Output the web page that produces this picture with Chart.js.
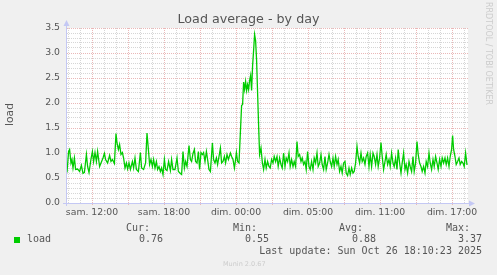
<!DOCTYPE html>
<html>
<head>
<meta charset="utf-8">
<script src="https://cdn.jsdelivr.net/npm/chart.js@4/dist/chart.umd.min.js"></script>
<style>
  html, body { margin: 0; padding: 0; background: #f0f0f0; }
  #wrap { position: relative; width: 497px; height: 275px; }
</style>
</head>
<body>
<div id="wrap"><canvas id="loadChart"></canvas></div>
<script>
// minutes since the left edge of the graph (5 min per pixel)
const minutes = [0, 8, 13, 20, 25, 30, 37, 43, 53, 63, 72, 80, 87, 97, 103, 110, 120, 127, 133, 140, 147, 153, 163, 170, 180, 187, 193, 203, 213, 220, 227, 237, 245, 250, 257, 263, 270, 277, 283, 290, 297, 303, 310, 317, 327, 333, 340, 347, 357, 367, 373, 383, 393, 400, 407, 413, 420, 427, 433, 440, 447, 453, 460, 467, 473, 480, 487, 493, 500, 508, 517, 523, 530, 540, 550, 557, 567, 573, 580, 587, 593, 600, 610, 617, 623, 630, 637, 643, 650, 657, 663, 670, 677, 683, 690, 697, 703, 710, 717, 727, 733, 740, 747, 753, 760, 767, 773, 780, 787, 793, 800, 807, 817, 823, 830, 837, 843, 847, 853, 860,
  873, 878, 883, 888, 893, 898, 903, 908, 913, 918, 923, 928, 933, 938, 943, 948, 953, 958, 963, 970,
  977, 983, 990, 996, 1003, 1010, 1016, 1023, 1030, 1036, 1043, 1050, 1056, 1063, 1070, 1076, 1083, 1090, 1096, 1103, 1110, 1116, 1123, 1130, 1136, 1143, 1150, 1156, 1163, 1170, 1176, 1183, 1190, 1196, 1203, 1210, 1216, 1223, 1230, 1236, 1243, 1250, 1256, 1263, 1270, 1276, 1283, 1290, 1296, 1303, 1310, 1316, 1323, 1330, 1336, 1343, 1350, 1356, 1363, 1370, 1376, 1383, 1390, 1396, 1403, 1410, 1416, 1423, 1430, 1436, 1443, 1450, 1456, 1463, 1470, 1476, 1483, 1490, 1496, 1503, 1510, 1516, 1523, 1530, 1536, 1543, 1550, 1556, 1563, 1570, 1576, 1583, 1590, 1596, 1603, 1610, 1616, 1623, 1630, 1636, 1643, 1650, 1656, 1663, 1670, 1676, 1683, 1690, 1696, 1703, 1710, 1716, 1723, 1730, 1736, 1743, 1750, 1756, 1763, 1770, 1776, 1783, 1790, 1796, 1803, 1810, 1816, 1823, 1830, 1836, 1843, 1850, 1856, 1863, 1870, 1876, 1883, 1890, 1896, 1903, 1910, 1916, 1923, 1928, 1933, 1940, 1946, 1953, 1960, 1966, 1973, 1980, 1986, 1993, 2000];

const load = [0.61, 1.03, 1.07, 0.80, 0.87, 0.70, 0.90, 0.67, 0.68, 0.63, 0.75, 0.59, 0.61, 0.97, 0.73, 0.61, 0.88, 1.03, 0.83, 1.01, 0.83, 1.03, 0.73, 0.80, 0.90, 0.99, 0.87, 0.80, 0.95, 0.83, 0.87, 0.79, 1.39, 1.20, 1.07, 1.17, 0.97, 1.01, 0.90, 0.70, 0.80, 0.68, 0.80, 0.67, 0.83, 0.70, 0.90, 0.67, 0.63, 1.01, 0.70, 0.67, 0.80, 1.40, 1.07, 0.77, 0.87, 0.73, 0.87, 0.70, 0.83, 0.67, 0.73, 0.63, 0.70, 0.57, 0.87, 0.67, 0.65, 0.83, 0.65, 0.87, 0.67, 0.67, 0.90, 0.63, 0.59, 0.57, 1.03, 0.70, 0.83, 0.73, 1.15, 0.87, 0.83, 0.99, 1.07, 0.83, 0.80, 1.03, 0.67, 1.01, 0.97, 1.01, 0.83, 1.03, 0.87, 0.67, 0.63, 1.20, 0.87, 0.80, 0.90, 0.77, 0.93, 1.10, 0.80, 0.83, 0.93, 0.80, 0.97, 0.87, 1.00, 0.93, 0.87, 0.70, 0.87, 1.01, 0.83, 0.80,
  1.95, 1.97, 2.42, 2.27, 2.43, 2.25, 2.37, 2.27, 2.45, 2.55, 2.25, 2.75, 3.05, 3.37, 3.25, 2.85, 2.20, 1.55, 0.97, 1.10,
  0.80, 0.67, 0.87, 0.70, 0.83, 0.73, 0.70, 0.87, 0.80, 0.93, 0.83, 0.93, 0.73, 0.90, 0.77, 0.70, 1.00, 0.73, 0.90, 0.83, 1.00, 0.73, 0.87, 0.73, 0.83, 0.73, 1.23, 0.93, 0.97, 0.83, 0.90, 0.77, 0.83, 0.67, 1.03, 0.73, 0.67, 0.83, 0.67, 0.90, 0.80, 1.00, 0.73, 0.80, 0.97, 0.77, 0.67, 0.93, 0.67, 0.80, 0.97, 0.83, 0.73, 0.90, 0.73, 0.93, 0.77, 0.87, 0.63, 0.73, 0.60, 0.80, 0.83, 0.60, 0.55, 0.70, 0.57, 0.70, 0.60, 0.63, 0.80, 1.13, 0.93, 0.80, 1.00, 0.83, 0.90, 0.77, 0.93, 1.00, 0.73, 0.97, 0.73, 1.00, 0.93, 0.77, 0.97, 0.73, 0.90, 1.21, 0.93, 0.67, 0.83, 0.97, 0.77, 0.87, 0.73, 1.00, 0.80, 0.73, 0.90, 0.67, 1.07, 0.80, 0.60, 0.80, 1.00, 0.67, 0.77, 0.60, 0.83, 0.73, 0.63, 0.93, 0.63, 0.80, 1.23, 0.97, 0.80, 0.73, 0.63, 0.73, 0.60, 0.83, 0.73, 1.00, 0.80, 0.67, 0.87, 0.73, 0.93, 0.80, 0.67, 0.87, 0.73, 0.90, 0.80, 0.90, 0.77, 0.90, 0.73, 0.93, 1.07, 1.35, 1.07, 0.93, 0.77, 0.83, 0.90, 0.77, 0.83, 0.80, 0.73, 1.00, 0.76];

const tickMinutes = [125, 485, 845, 1205, 1565, 1925];
const tickLabels = ['sam. 12:00', 'sam. 18:00', 'dim. 00:00', 'dim. 05:00', 'dim. 11:00', 'dim. 17:00'];

const legendHeads = ['Cur:', 'Min:', 'Avg:', 'Max:'];
const legendValues = ['0.76', '0.55', '0.88', '3.37'];

const GREEN = '#00cc00';
const TEXT = '#555555';
const MAJOR = '#eab8b8';
const MINOR = '#d6d6d6';
const AXIS = '#c4c8f4';

// hourly grid, red every 3h
const xGrid = [];
for (let m = 5; m < 2005; m += 60) xGrid.push(m);
const yGrid = [];
for (let i = 0; i <= 35; i++) yGrid.push(i / 10);

const isMajorX = v => (v - 125) % 180 === 0;
const isMajorY = v => Math.round(v * 10) % 5 === 0;

const muninDecor = {
    id: 'muninDecor',
    beforeDraw(chart) {
        const { ctx, chartArea: a } = chart;
        ctx.save();
        ctx.fillStyle = '#ffffff';
        ctx.fillRect(a.left, a.top, a.right - a.left, a.bottom - a.top);
        ctx.restore();
    },
    afterDraw(chart) {
        const { ctx, chartArea: a } = chart;
        ctx.save();

        // axes with arrows
        ctx.strokeStyle = AXIS;
        ctx.fillStyle = AXIS;
        ctx.lineWidth = 1;
        ctx.beginPath();
        ctx.moveTo(a.left - 0.5, a.bottom + 3);
        ctx.lineTo(a.left - 0.5, a.top - 4);
        ctx.moveTo(a.left - 4, a.bottom + 0.5);
        ctx.lineTo(a.right + 3, a.bottom + 0.5);
        ctx.stroke();
        ctx.beginPath();
        ctx.moveTo(a.left - 0.5, a.top - 8);
        ctx.lineTo(a.left - 3.5, a.top - 2);
        ctx.lineTo(a.left + 2.5, a.top - 2);
        ctx.closePath();
        ctx.fill();
        ctx.beginPath();
        ctx.moveTo(a.right + 7, a.bottom + 0.5);
        ctx.lineTo(a.right + 1, a.bottom - 2.5);
        ctx.lineTo(a.right + 1, a.bottom + 3.5);
        ctx.closePath();
        ctx.fill();

        // title
        ctx.fillStyle = TEXT;
        ctx.font = '12.7px "DejaVu Sans"';
        ctx.textAlign = 'center';
        ctx.textBaseline = 'middle';
        ctx.fillText('Load average - by day', 248.5, 19.5);

        // y axis title
        ctx.save();
        ctx.translate(10, 114.5);
        ctx.rotate(-Math.PI / 2);
        ctx.font = '10.7px "DejaVu Sans"';
        ctx.fillText('load', 0, 0);
        ctx.restore();

        // rrdtool credit on the right
        ctx.save();
        ctx.translate(488.5, 53.5);
        ctx.rotate(Math.PI / 2);
        ctx.fillStyle = '#cccccc';
        ctx.font = '8px "DejaVu Sans"';
        ctx.fillText('RRDTOOL / TOBI OETIKER', 0, 0);
        ctx.restore();

        // legend block
        ctx.font = '10px "DejaVu Sans Mono"';
        ctx.fillStyle = TEXT;
        ctx.textAlign = 'right';
        const headX = [150, 257, 363, 470];
        const valX = [163, 269, 376, 482];
        legendHeads.forEach((h, i) => ctx.fillText(h, headX[i], 228));
        legendValues.forEach((v, i) => ctx.fillText(v, valX[i], 239.5));
        ctx.fillText('Last update: Sun Oct 26 18:10:23 2025', 482, 251);
        ctx.textAlign = 'left';
        ctx.fillText('load', 27, 239.5);
        ctx.fillStyle = GREEN;
        ctx.fillRect(14, 237, 6, 6);

        ctx.fillStyle = '#cccccc';
        ctx.font = '6.5px "DejaVu Sans"';
        ctx.fillText('Munin 2.0.67', 223, 264);

        ctx.restore();
    }
};

const ctx = document.getElementById('loadChart').getContext('2d');
new Chart(ctx, {
    type: 'line',
    data: {
        datasets: [{
            label: 'load',
            data: minutes.map((m, i) => ({ x: m, y: load[i] })),
            borderColor: GREEN,
            borderWidth: 1.3,
            pointRadius: 0,
            tension: 0,
            fill: false
        }]
    },
    options: {
        responsive: true,
        maintainAspectRatio: false,
        animation: false,
        layout: { padding: { top: 28, right: 29, left: 0, bottom: 0 } },
        plugins: {
            legend: { display: false },
            title: { display: false },
            tooltip: { enabled: false }
        },
        scales: {
            x: {
                type: 'linear',
                min: 0,
                max: 2005,
                afterFit(scale) { scale.height = 72; },
                afterBuildTicks(scale) { scale.ticks = xGrid.map(v => ({ value: v })); },
                border: { display: false, dash: [1, 1] },
                grid: {
                    color: c => isMajorX(c.tick.value) ? MAJOR : MINOR,
                    tickColor: c => isMajorX(c.tick.value) ? MAJOR : 'rgba(0,0,0,0)',
                    borderDash: [1, 1],
                    tickLength: 2,
                    lineWidth: 1
                },
                ticks: {
                    autoSkip: false,
                    maxRotation: 0,
                    padding: 2,
                    color: TEXT,
                    font: { family: 'DejaVu Sans', size: 9.3 },
                    callback: v => {
                        const i = tickMinutes.indexOf(v);
                        return i >= 0 ? tickLabels[i] : '';
                    }
                }
            },
            y: {
                min: 0,
                max: 3.5,
                afterFit(scale) { scale.width = 67; },
                afterBuildTicks(scale) { scale.ticks = yGrid.map(v => ({ value: v })); },
                border: { display: false, dash: [1, 1] },
                grid: {
                    color: c => isMajorY(c.tick.value) ? MAJOR : MINOR,
                    borderDash: [1, 1],
                    drawTicks: false,
                    lineWidth: 1
                },
                ticks: {
                    autoSkip: false,
                    padding: 7,
                    color: TEXT,
                    font: { family: 'DejaVu Sans', size: 9.3 },
                    callback: v => isMajorY(v) ? v.toFixed(1) : ''
                }
            }
        }
    },
    plugins: [muninDecor]
});
</script>
</body>
</html>
